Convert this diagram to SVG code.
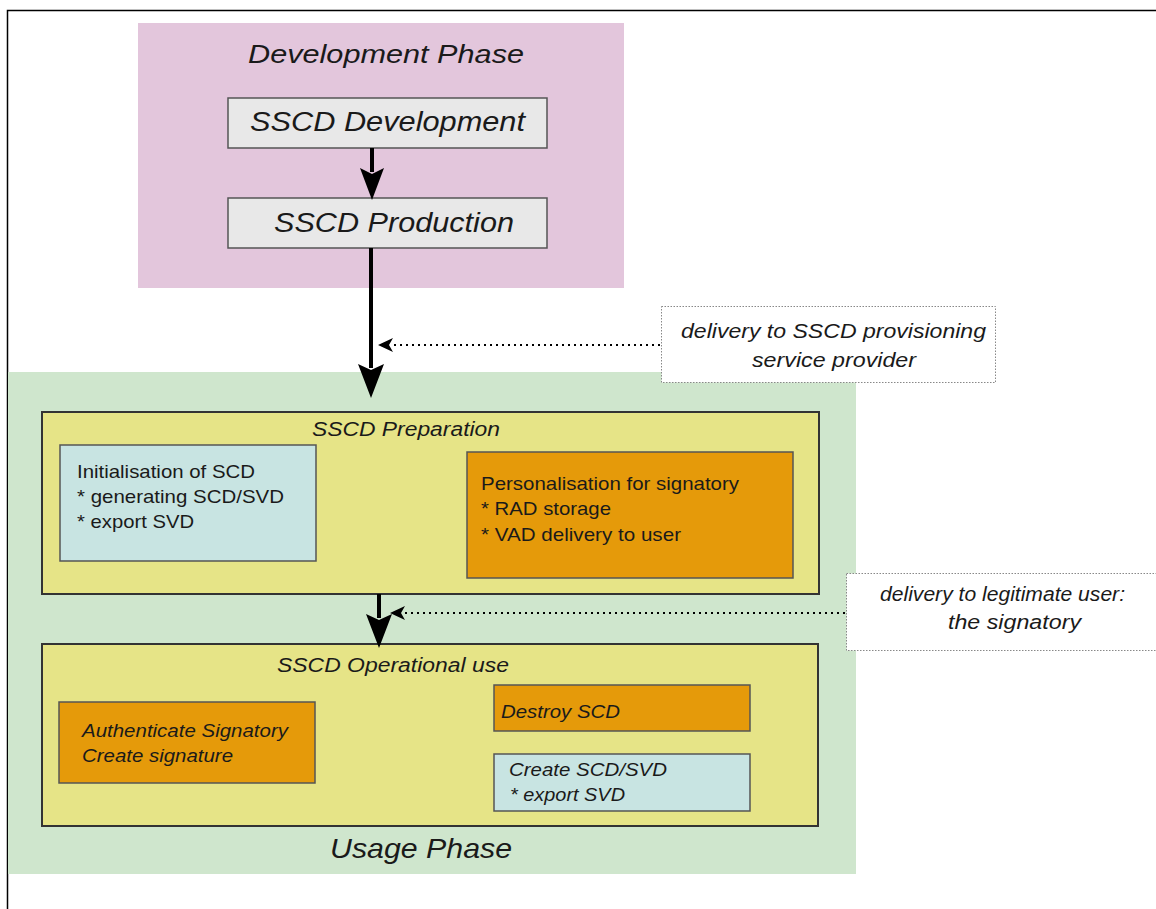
<svg xmlns="http://www.w3.org/2000/svg" width="1156" height="909" viewBox="0 0 1156 909">
<defs>
<style>
.t{font-family:"Liberation Sans",Arial,sans-serif;fill:#1a1a1a}
.i{font-style:italic}
.box{stroke:#555;stroke-width:1.5}
.cont{stroke:#333;stroke-width:2}
.note{fill:#fff;stroke:#888;stroke-width:1;stroke-dasharray:1.5 1.5}
.thick{stroke:#000;stroke-width:4;fill:none}
.dot{stroke:#000;stroke-width:2;stroke-dasharray:2 4;fill:none}
</style>
</defs>
<rect x="0" y="0" width="1156" height="909" fill="#fff"/>
<path d="M7.5 909 V10.5 H1156" fill="none" stroke="#000" stroke-width="1.5"/>

<g id="development-phase">
<rect x="138" y="23" width="486" height="265" fill="#e3c6dc"/>
<text class="t i" x="248" y="63" font-size="26" textLength="276" lengthAdjust="spacingAndGlyphs">Development Phase</text>
</g>
<g id="usage-phase">
<rect x="8" y="372" width="848" height="502" fill="#cfe6cd"/>
<text class="t i" x="330" y="858" font-size="28" textLength="182" lengthAdjust="spacingAndGlyphs">Usage Phase</text>
</g>

<g id="sscd-development">
<rect class="box" x="228" y="98" width="319" height="50" fill="#e8e8e8"/>
<text class="t i" x="250" y="131" font-size="27" textLength="275" lengthAdjust="spacingAndGlyphs">SSCD Development</text>
</g>
<g id="sscd-production">
<rect class="box" x="228" y="198" width="319" height="50" fill="#e8e8e8"/>
<text class="t i" x="274" y="232" font-size="27" textLength="240" lengthAdjust="spacingAndGlyphs">SSCD Production</text>
</g>

<g id="note-provisioning">
<rect class="note" x="661.5" y="306.5" width="334" height="76"/>
<text class="t i" x="681" y="338" font-size="20" textLength="305" lengthAdjust="spacingAndGlyphs">delivery to SSCD provisioning</text>
<text class="t i" x="752" y="367" font-size="20" textLength="164" lengthAdjust="spacingAndGlyphs">service provider</text>
</g>

<g id="sscd-preparation">
<rect class="cont" x="42" y="412" width="777" height="182" fill="#e6e487"/>
<text class="t i" x="312" y="436" font-size="20" textLength="188" lengthAdjust="spacingAndGlyphs">SSCD Preparation</text>
</g>
<g id="initialisation">
<rect class="box" x="60" y="445" width="256" height="116" fill="#c8e4e2"/>
<text class="t" x="77" y="478" font-size="19" textLength="178" lengthAdjust="spacingAndGlyphs">Initialisation of SCD</text>
<text class="t" x="77" y="503" font-size="19" textLength="207" lengthAdjust="spacingAndGlyphs">* generating SCD/SVD</text>
<text class="t" x="77" y="528" font-size="19" textLength="117" lengthAdjust="spacingAndGlyphs">* export SVD</text>
</g>
<g id="personalisation">
<rect class="box" x="467" y="452" width="326" height="126" fill="#e59a0a"/>
<text class="t" x="481" y="490" font-size="19" textLength="258" lengthAdjust="spacingAndGlyphs">Personalisation for signatory</text>
<text class="t" x="481" y="515" font-size="19" textLength="130" lengthAdjust="spacingAndGlyphs">* RAD storage</text>
<text class="t" x="481" y="541" font-size="19" textLength="200" lengthAdjust="spacingAndGlyphs">* VAD delivery to user</text>
</g>

<g id="note-legitimate-user">
<rect class="note" x="846.5" y="573.5" width="320" height="77"/>
<text class="t i" x="880" y="601" font-size="20" textLength="245" lengthAdjust="spacingAndGlyphs">delivery to legitimate user:</text>
<text class="t i" x="948" y="629" font-size="20" textLength="133" lengthAdjust="spacingAndGlyphs">the signatory</text>
</g>

<g id="sscd-operational-use">
<rect class="cont" x="42" y="644" width="776" height="182" fill="#e6e487"/>
<text class="t i" x="277" y="672" font-size="20" textLength="232" lengthAdjust="spacingAndGlyphs">SSCD Operational use</text>
</g>
<g id="authenticate">
<rect class="box" x="59" y="702" width="256" height="81" fill="#e59a0a"/>
<text class="t i" x="82" y="737" font-size="19" textLength="206" lengthAdjust="spacingAndGlyphs">Authenticate Signatory</text>
<text class="t i" x="82" y="762" font-size="19" textLength="151" lengthAdjust="spacingAndGlyphs">Create signature</text>
</g>
<g id="destroy-scd">
<rect class="box" x="494" y="685" width="256" height="46" fill="#e59a0a"/>
<text class="t i" x="501" y="718" font-size="19" textLength="119" lengthAdjust="spacingAndGlyphs">Destroy SCD</text>
</g>
<g id="create-scd-svd">
<rect class="box" x="494" y="754" width="256" height="57" fill="#c8e4e2"/>
<text class="t i" x="509" y="776" font-size="19" textLength="158" lengthAdjust="spacingAndGlyphs">Create SCD/SVD</text>
<text class="t i" x="510" y="801" font-size="19" textLength="115" lengthAdjust="spacingAndGlyphs">* export SVD</text>
</g>

<g id="connectors">
<line class="thick" x1="372" y1="148" x2="372" y2="172"/>
<polygon points="360,168 372,174 384,168 372,200" fill="#000"/>
<line class="thick" x1="371" y1="248" x2="371" y2="368"/>
<polygon points="358,364 371,370 384,364 371,398" fill="#000"/>
<line class="thick" x1="379" y1="594" x2="379" y2="618"/>
<polygon points="366,614 379,620 392,614 379,648" fill="#000"/>
<line class="dot" x1="660" y1="345" x2="392" y2="345"/>
<polygon points="378,345 393,338 389,345 393,352" fill="#000"/>
<line class="dot" x1="845" y1="613" x2="404" y2="613"/>
<polygon points="390,613 405,606 401,613 405,620" fill="#000"/>
</g>
</svg>
